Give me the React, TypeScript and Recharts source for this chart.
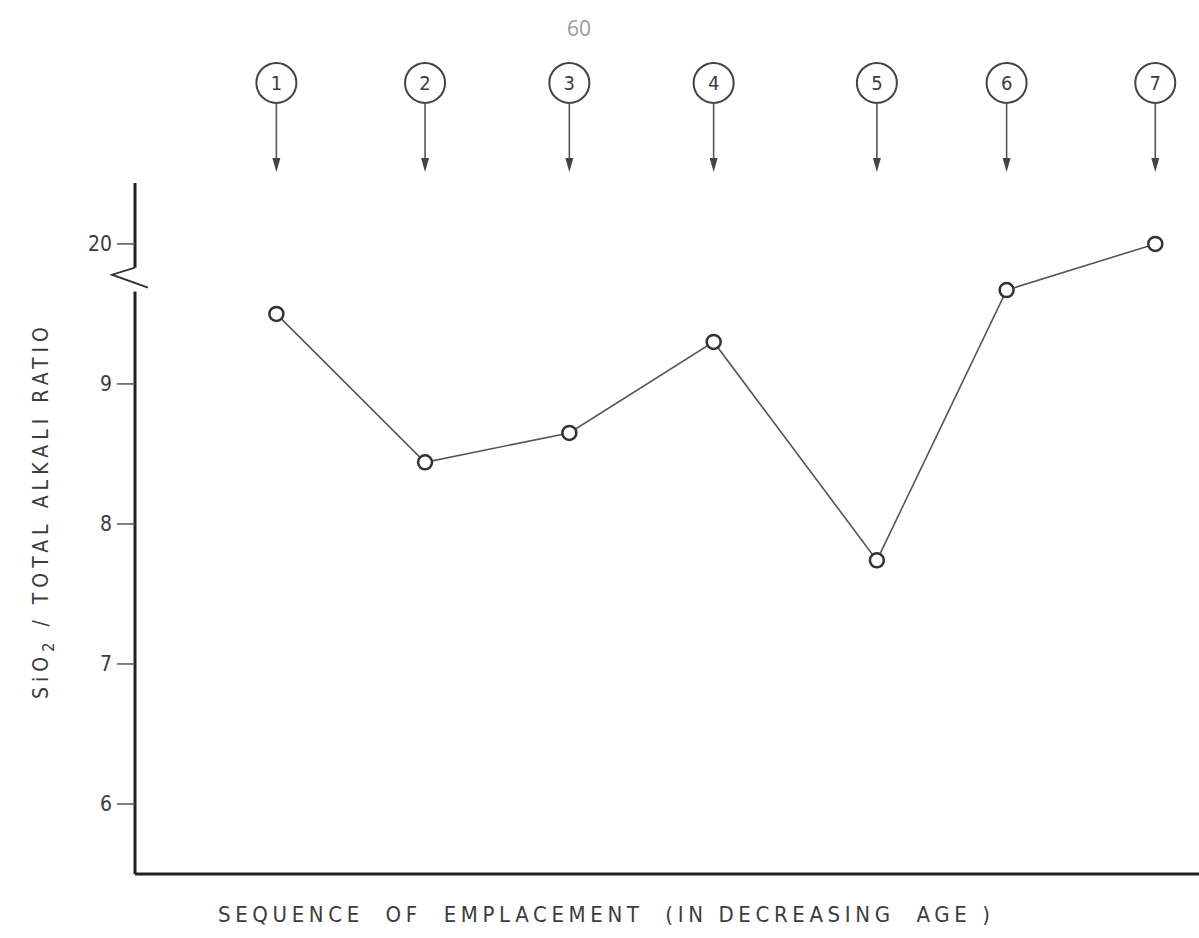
import { LineChart, Line, XAxis, YAxis, ReferenceLine, ReferenceDot } from 'recharts'

// emplacement sequence, oldest first
const SEQUENCE = ['1', '2', '3', '4', '5', '6', '7']
// position of each unit along the horizontal axis
const POSITION = [0.97, 1.99, 2.98, 3.97, 5.09, 5.98, 7.0]
// SiO2 / total alkali ratio
const RATIO = [9.5, 8.44, 8.65, 9.3, 7.74, 9.67, 20]

const Y_TICKS = [6, 7, 8, 9, 10]
const Y_TICK_LABELS: Record<number, string> = { 6: '6', 7: '7', 8: '8', 9: '9', 10: '20' }
// values above the axis break are drawn shifted down by this offset
const BREAK_OFFSET = 10

const FONT = '"DejaVu Sans Condensed", "DejaVu Sans", sans-serif'
const INK = '#3c3c3c'

const data = SEQUENCE.map((s, i) => ({
  unit: s,
  pos: POSITION[i],
  ratio: RATIO[i],
  plotted: RATIO[i] > 10 ? RATIO[i] - BREAK_OFFSET : RATIO[i],
}))

const Y_DOMAIN: [number, number] = [5.5, 10.435]
const MARKER_Y = 11.15

function UnitMarker(props: any) {
  const { cx, cy, label } = props
  return (
    <g>
      <circle cx={cx} cy={cy} r={20} fill="none" stroke="#444" strokeWidth={2} />
      <text x={cx} y={cy + 7} textAnchor="middle" fontSize={20} fontFamily={FONT} fill={INK}>
        {label}
      </text>
      <line x1={cx} y1={cy + 20} x2={cx} y2={cy + 80} stroke="#555" strokeWidth={1.6} />
      <polygon points={`${cx - 4},${cy + 75} ${cx + 4},${cy + 75} ${cx},${cy + 89}`} fill="#444" />
    </g>
  )
}

function BreakMark(props: any) {
  const { cx, cy } = props
  return (
    <path
      d={`M${cx},${cy} L${cx - 23},${cy + 7} L${cx + 13},${cy + 20}`}
      fill="none"
      stroke="#333"
      strokeWidth={1.8}
    />
  )
}

function XTitle() {
  return (
    <text
      x={218}
      y={922}
      fontSize={22}
      fontFamily={FONT}
      fill={INK}
      textLength={772}
      lengthAdjust="spacing"
      style={{ whiteSpace: 'pre' }}
    >
      {'SEQUENCE  OF  EMPLACEMENT  (IN DECREASING  AGE )'}
    </text>
  )
}

function YTitle() {
  return (
    <text
      transform="translate(48, 513) rotate(-90)"
      textAnchor="middle"
      fontSize={21}
      fontFamily={FONT}
      fill={INK}
      textLength={372}
      lengthAdjust="spacing"
    >
      SiO<tspan dy={6} fontSize={16}>2</tspan><tspan dy={-6}> / TOTAL ALKALI RATIO</tspan>
    </text>
  )
}

export default function App() {
  return (
    <div style={{ position: 'absolute', left: 0, top: 0, width: 1199, height: 938, background: '#fff' }}>
      <div
        style={{
          position: 'absolute', left: 567, top: 14, fontFamily: '"Open Sans", sans-serif',
          fontSize: 21, color: '#9a9a9a',
        }}
      >
        60
      </div>
      <LineChart width={1199} height={938} data={data} margin={{ top: 183, right: 0, bottom: 0, left: 0 }}>
        <XAxis
          dataKey="pos"
          type="number"
          domain={[0, 7.3]}
          allowDataOverflow
          tick={false}
          tickLine={false}
          axisLine={{ stroke: '#222', strokeWidth: 3 }}
          height={64}
          label={{ content: <XTitle /> }}
        />
        <YAxis
          type="number"
          domain={Y_DOMAIN}
          allowDataOverflow
          ticks={Y_TICKS}
          tickFormatter={(v: number) => Y_TICK_LABELS[v] ?? String(v)}
          tick={{ fontSize: 21, fill: INK, fontFamily: FONT }}
          tickSize={18}
          tickMargin={5}
          tickLine={{ stroke: '#555', strokeWidth: 1.5 }}
          axisLine={false}
          width={135}
          label={{ content: <YTitle /> }}
        />
        {/* broken y axis */}
        <ReferenceLine
          segment={[{ x: 0, y: Y_DOMAIN[0] }, { x: 0, y: 9.66 }]}
          stroke="#222"
          strokeWidth={3}
          ifOverflow="visible"
        />
        <ReferenceLine
          segment={[{ x: 0, y: 9.83 }, { x: 0, y: Y_DOMAIN[1] }]}
          stroke="#222"
          strokeWidth={3}
          ifOverflow="visible"
        />
        <ReferenceDot x={0} y={9.83} r={0} ifOverflow="visible" shape={<BreakMark />} />
        {SEQUENCE.map((s, i) => (
          <ReferenceDot
            key={s}
            x={POSITION[i]}
            y={MARKER_Y}
            r={20}
            ifOverflow="visible"
            shape={(p: any) => <UnitMarker {...p} label={s} />}
          />
        ))}
        <Line
          dataKey="plotted"
          stroke="#555"
          strokeWidth={1.6}
          dot={{ r: 7, stroke: '#333', strokeWidth: 2.5, fill: '#fff' }}
          isAnimationActive={false}
        />
      </LineChart>
    </div>
  )
}
